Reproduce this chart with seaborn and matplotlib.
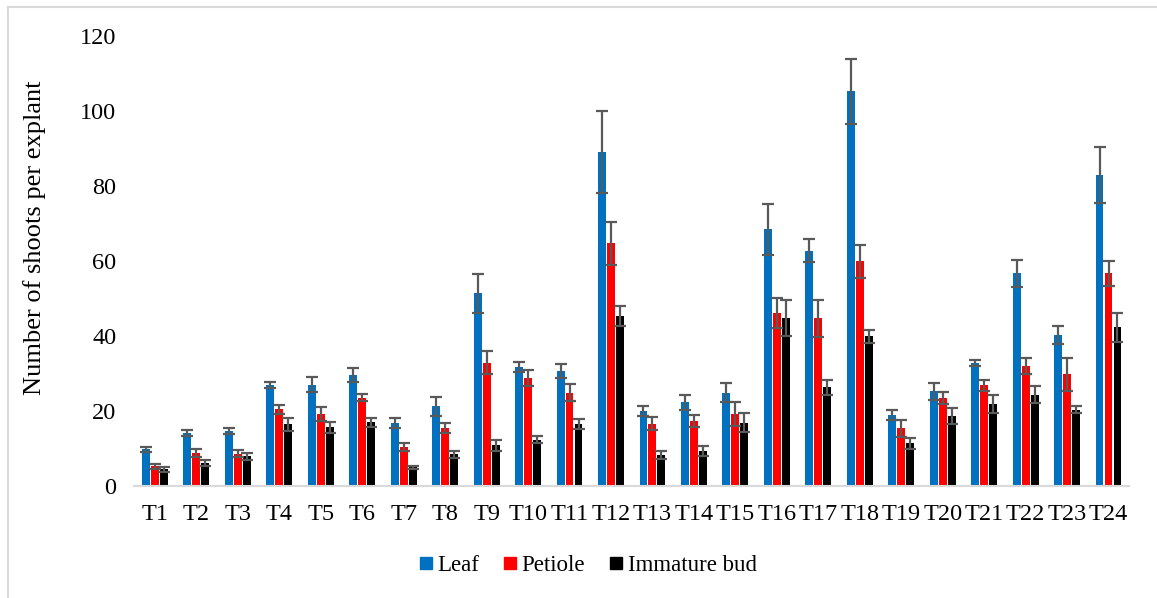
import numpy as np
import pandas as pd
import matplotlib
matplotlib.use("Agg")
import matplotlib.pyplot as plt
import seaborn as sns
from matplotlib.lines import Line2D

treatments = [f"T{i}" for i in range(1, 25)]
explants = ["Leaf", "Petiole", "Immature bud"]

leaf = [9.8, 14.1, 14.6, 27.0, 27.0, 29.6, 16.8, 21.3, 51.4, 31.7, 30.7, 89.0,
        20.0, 22.3, 24.9, 68.5, 62.8, 105.2, 19.0, 25.3, 32.9, 56.7, 40.4, 83.0]
leaf_err = [0.6, 0.8, 0.8, 0.8, 2.0, 1.8, 1.4, 2.5, 5.2, 1.4, 1.8, 11.0,
            1.4, 1.9, 2.6, 6.8, 3.0, 8.7, 1.3, 2.3, 0.8, 3.5, 2.4, 7.5]

petiole = [5.3, 8.8, 8.7, 20.5, 19.3, 23.6, 10.5, 15.6, 32.9, 28.8, 24.9, 64.7,
           16.7, 17.4, 19.2, 46.2, 44.7, 59.9, 15.4, 23.6, 26.9, 32.0, 29.8, 56.7]
petiole_err = [0.7, 1.0, 1.0, 1.2, 1.9, 1.0, 1.1, 1.3, 3.1, 2.2, 2.2, 5.8,
               1.8, 1.5, 3.1, 4.0, 4.9, 4.3, 2.2, 1.6, 1.5, 2.2, 4.4, 3.4]

bud = [4.5, 6.2, 8.0, 16.5, 15.7, 17.0, 5.0, 8.5, 10.9, 12.4, 16.5, 45.3,
       8.3, 9.4, 16.9, 44.7, 26.3, 39.9, 11.4, 18.7, 21.9, 24.4, 20.4, 42.3]
bud_err = [0.6, 0.9, 0.9, 1.8, 1.4, 1.2, 0.4, 1.0, 1.5, 1.0, 1.3, 2.7,
           1.1, 1.3, 2.5, 4.8, 1.9, 1.7, 1.5, 2.2, 2.5, 2.3, 0.9, 3.9]

colors = ["#0070C0", "#FF0000", "#000000"]

df = pd.DataFrame({
    "treatment": treatments * 3,
    "explant": np.repeat(explants, len(treatments)),
    "shoots": leaf + petiole + bud,
})
errs = [leaf_err, petiole_err, bud_err]
means = [leaf, petiole, bud]

plt.rcParams["font.family"] = ["Liberation Serif", "DejaVu Serif"]

fig = plt.figure(figsize=(11.57, 5.98), dpi=100)
ax = fig.add_axes([0.116, 0.187, 0.860, 0.753])

sns.barplot(data=df, x="treatment", y="shoots", hue="explant",
            order=treatments, hue_order=explants, palette=colors,
            saturation=1, width=0.65, gap=0.12, errorbar=None,
            legend=False, ax=ax)

# error bars on each bar center
for cont, vals, err in zip(ax.containers, means, errs):
    xs = [b.get_x() + b.get_width() / 2 for b in cont]
    ax.errorbar(xs, vals, yerr=err, fmt="none", ecolor="#595959",
                elinewidth=1.6, capsize=4.5, capthick=1.6, zorder=3)

ax.set_ylim(0, 120)
ax.set_yticks(range(0, 121, 20))
ax.set_xlim(-0.5, len(treatments) - 0.5)
ax.set_xlabel("")
ax.set_ylabel("Number of shoots per explant", fontsize=19)
ax.yaxis.set_label_coords(-0.089, 0.551)
ax.tick_params(axis="y", length=0, labelsize=17.5, pad=13)
ax.tick_params(axis="x", length=0, labelsize=17.5, pad=13)
for s in ["top", "right", "left"]:
    ax.spines[s].set_visible(False)
ax.spines["bottom"].set_color("#D9D9D9")
ax.spines["bottom"].set_linewidth(1.5)

handles = [Line2D([0], [0], marker="s", linestyle="", markersize=8,
                  markerfacecolor=c, markeredgecolor=c) for c in colors]
fig.legend(handles, explants, loc="center", bbox_to_anchor=(0.508, 0.054),
           ncol=3, frameon=False, fontsize=16.5, handlelength=0.6,
           handletextpad=0.2, columnspacing=1.05)

# outer chart border (only left and top visible in the crop)
fig.add_artist(Line2D([0.0065, 0.0065], [0, 0.989], transform=fig.transFigure,
                      color="#D9D9D9", linewidth=1.5))
fig.add_artist(Line2D([0.0065, 1.0], [0.989, 0.989], transform=fig.transFigure,
                      color="#D9D9D9", linewidth=1.5))

fig.savefig("out.png", dpi=100)
plt.close()
